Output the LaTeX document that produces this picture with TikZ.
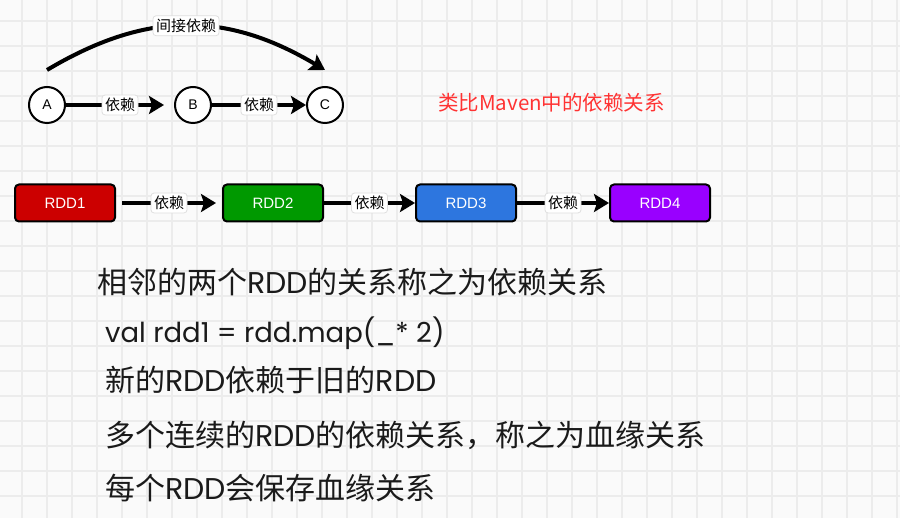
\documentclass[tikz,border=0pt]{standalone}
\usepackage{fontspec}
\setmainfont{Noto Sans CJK SC}
\newfontfamily\lat{Poppins}
\newfontfamily\arial{Liberation Sans}
\usepackage{tikz}
\usetikzlibrary{arrows.meta,positioning}
\definecolor{bgc}{RGB}{250,250,250}
\definecolor{gridc}{RGB}{236,236,236}
\definecolor{rddred}{HTML}{CC0000}
\definecolor{rddgreen}{HTML}{009900}
\definecolor{rddblue}{HTML}{2D76DF}
\definecolor{rddpurple}{HTML}{9900FF}
\definecolor{redc}{HTML}{FF3333}
\definecolor{txtc}{HTML}{1A1A1A}

\begin{document}
\begin{tikzpicture}[x=1pt, y=-1pt,
  circ/.style={draw, circle, line width=2, fill=white, minimum size=36, inner sep=0, font=\arial\fontsize{14}{14}\selectfont},
  rdd/.style={draw, rounded corners=4, line width=2, minimum width=100, minimum height=37, text=white, font=\arial\fontsize{15}{15}\selectfont},
  dep/.style={line width=4, -{Stealth[length=15, width=18, inset=3]}},
  lbl/.style={draw=gray!25, fill=white, rounded corners=3, inner sep=3, line width=0.8, font=\fontsize{15}{15}\selectfont},
  note/.style={anchor=west, inner sep=0, text=txtc, font=\fontsize{30}{30}\selectfont}]
\useasboundingbox (0,0) rectangle (900,518);
\fill[bgc] (0,0) rectangle (900,518);
\begin{scope}[shift={(22,21)}]
\draw[gridc, line width=1.5, step=25pt] (-22,-21) grid (878,497);
\end{scope}
% small chain
\node[circ] (A) at (47,105) {A};
\node[circ] (B) at (193,105) {B};
\node[circ] (C) at (325,105) {C};
\draw[dep, shorten >=10] (A) -- node[lbl] {依赖} (B);
\draw[dep] (B) -- node[lbl] {依赖} (C);
\coordinate (A1) at (47,70);
\coordinate (C1) at (325,70);
\draw[dep] (A1) .. controls (146,11) and (226,11) .. node[lbl] {间接依赖} (C1);
\node[anchor=west, inner sep=0, text=redc, font=\fontsize{20.5}{20.5}\selectfont] (maven) at (438,103) {类比Maven中的依赖关系};
% rdd chain
\node[rdd, fill=rddred] (R1) at (65,203) {RDD1};
\node[rdd, fill=rddgreen] (R2) at (273,203) {RDD2};
\node[rdd, fill=rddblue] (R3) at (466,203) {RDD3};
\node[rdd, fill=rddpurple] (R4) at (660,203) {RDD4};
\draw[dep, shorten <=6, shorten >=6] (R1) -- node[lbl] {依赖} (R2);
\draw[dep] (R2) -- node[lbl] {依赖} (R3);
\draw[dep] (R3) -- node[lbl] {依赖} (R4);
% notes
\node[note] (l1) at (97,282) {相邻的两个{\lat RDD}的关系称之为依赖关系};
\node[note, font=\lat\fontsize{27.5}{27.5}\selectfont] (l2) at (105,333) {val rdd1 = rdd.map(\_* 2)};
\node[note] (l3) at (105,380) {新的{\lat RDD}依赖于旧的{\lat RDD}};
\node[note] (l4) at (105,435) {多个连续的{\lat RDD}的依赖关系，称之为血缘关系};
\node[note] (l5) at (105,488) {每个{\lat RDD}会保存血缘关系};
\end{tikzpicture}
\end{document}
